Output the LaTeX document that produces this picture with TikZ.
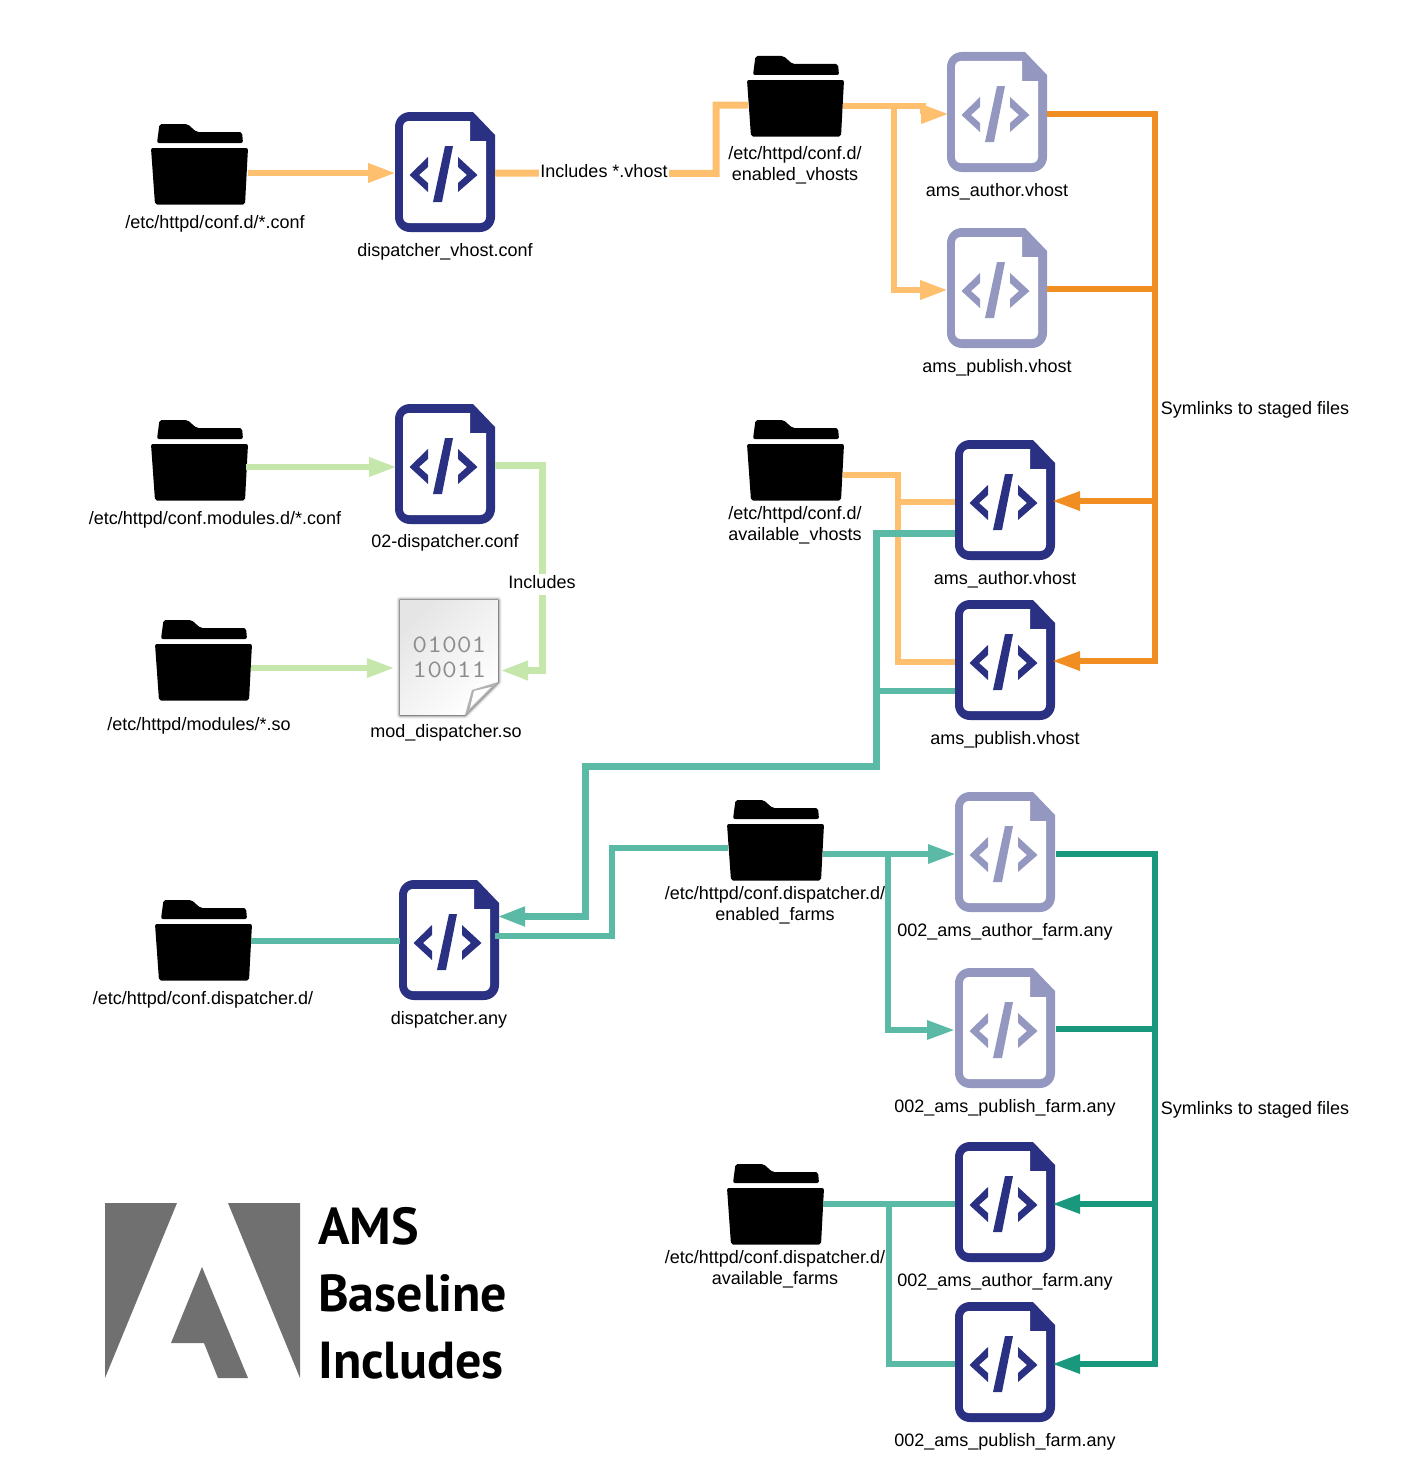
\documentclass[tikz,border=0pt]{standalone}
\usepackage{fontspec}
\setmainfont{Liberation Sans}
\newfontfamily\logofont{PT Sans}
\newfontfamily\binfont[FakeStretch=1.15]{Latin Modern Mono}
\usetikzlibrary{arrows.meta,calc}
\definecolor{navy}{HTML}{2A3182}
\definecolor{lilac}{HTML}{9498C1}
\definecolor{peach}{HTML}{FEC06E}
\definecolor{amber}{HTML}{F08E22}
\definecolor{sprout}{HTML}{C6E7AB}
\definecolor{teal2}{HTML}{5BBAA6}
\definecolor{dteal}{HTML}{1A987D}
\definecolor{logogrey}{HTML}{707070}
\tikzset{
  filebox/.style={minimum width=100pt,minimum height=120pt,inner sep=0pt,outer sep=0pt},
  folderbox/.style={minimum width=97pt,minimum height=81pt,inner sep=0pt,outer sep=0pt},
  lbl/.style={inner sep=0pt,align=center,font=\fontsize{18}{21}\selectfont},
  gap/.style={lbl,fill=white,inner xsep=1pt,inner ysep=0pt},
  conn/.style={line width=#1,line join=miter},
  conn/.default=6.5pt,
  arrowed/.style={-{Triangle[length=28pt,width=18pt]}},
  logotext/.style={inner sep=0pt,anchor=base west,font=\logofont\bfseries\fontsize{52}{52}\selectfont}
}
\newcommand{\fileicon}[4]{%
  \node[filebox] (#1) at (#2,#3) {};
  \begin{scope}[shift={(#2,#3)}]
    \fill[#4] (-35,-60) -- (28,-60) -- (50,-37) -- (50,45) .. controls (50,53.3) and (43.3,60) .. (35,60) -- (-35,60) .. controls (-43.3,60) and (-50,53.3) .. (-50,45) -- (-50,-45) .. controls (-50,-53.3) and (-43.3,-60) .. (-35,-60) -- cycle;
    \fill[white] (-36,-51) -- (25,-51) -- (25,-31) -- (41,-31) -- (41,45) .. controls (41,48.5) and (38.5,51) .. (35,51) -- (-36,51) .. controls (-39.5,51) and (-42,48.5) .. (-42,45) -- (-42,-45) .. controls (-42,-48.5) and (-39.5,-51) .. (-36,-51) -- cycle;
    \fill[#4] (-35.5,3) -- (-17,-15) -- (-17,-5) -- (-26,3) -- (-17,11) -- (-17,20) -- cycle;
    \fill[#4] (32.5,3) -- (13,-15) -- (13,-5) -- (22,3) -- (13,11) -- (13,20) -- cycle;
    \fill[#4] (0,-26) -- (8,-26) -- (-3,30) -- (-12,30) -- cycle;
  \end{scope}}
\newcommand{\foldericon}[3]{%
  \node[folderbox] (#1) at (#2,#3) {};
  \begin{scope}[shift={(#2,#3)}]
    \fill[black,rounded corners=2pt] (-42.5,-21.5) -- (-40,-40.5) -- (-12,-40.5) -- (-3,-32.5) -- (42.5,-32.5) -- (43.5,-21.5) -- cycle;
    \fill[black,rounded corners=2pt] (-48.5,-16.5) -- (48.5,-16.5) -- (45.5,40) -- (-44.5,40) -- cycle;
  \end{scope}}
\begin{document}
\begin{tikzpicture}[x=1pt,y=-1pt]
\useasboundingbox (0,0) rectangle (1405,1480);
% folders
\foldericon{fa}{199.5}{164.5}
\foldericon{fb}{795.5}{96.5}
\foldericon{fc}{199.5}{460.5}
\foldericon{fd}{203.5}{660.5}
\foldericon{fe}{795.5}{460.5}
\foldericon{ff}{775.5}{840.5}
\foldericon{fg}{203.5}{940.5}
\foldericon{fh}{775.5}{1204.5}
% files
\fileicon{dv}{445}{172}{navy}
\fileicon{dc}{445}{464}{navy}
\fileicon{la}{997}{112}{lilac}
\fileicon{lp}{997}{288}{lilac}
\fileicon{sa}{1005}{500}{navy}
\fileicon{sp}{1005}{660}{navy}
\fileicon{da}{449}{940}{navy}
\fileicon{ma}{1005}{852}{lilac}
\fileicon{mp}{1005}{1028}{lilac}
\fileicon{na}{1005}{1202}{navy}
\fileicon{np}{1005}{1362}{navy}
% binary file
\node[minimum width=100pt,minimum height=118pt,inner sep=0pt] (so) at (449,657.5) {};
\foreach \w/\o in {7/.06,5/.10,3/.16,1.5/.25}
  \draw[black,line width=\w pt,opacity=\o,line join=round] (400,600) -- (498,600) -- (498,682) -- (465,715) -- (400,715) -- cycle;
\fill[top color=black!10,bottom color=white,shading angle=45] (400,600) -- (498,600) -- (498,682) -- (465,715) -- (400,715) -- cycle;
\fill[black!30] (465,715) -- (472,690) -- (498,682) -- cycle;
\fill[white] (470,708) -- (474,691) -- (491,687) -- cycle;
\node[inner sep=0pt,font=\binfont\bfseries\fontsize{25}{25}\selectfont,text=black!45,align=center] (bin) at (449.5,657.5) {01001\\10011};
% connectors
\draw[conn,peach,arrowed] ($(fa.east)+(0,8.5)$) -- ($(dv.west)+(1,1)$);
\draw[conn=7pt,peach] ($(dv.east)+(0,1)$) -- (716,173.5) -- (716,105) -- ($(fb.west)+(1,8.5)$);
\draw[conn,peach,arrowed] ($(fb.east)+(-1,9.5)$) -- (923,106) -- (923,114) -- ($(la.west)+(2,2)$);
\draw[conn,peach,arrowed] (894,106) -- (894,290) -- ($(lp.west)+(1,2)$);
\draw[conn=6pt,amber] ($(la.east)+(0,1.5)$) -- (1155,113.5) -- (1155,289) -- ($(lp.east)+(0,1)$);
\draw[conn=6pt,amber,arrowed] (1155,113.5) -- (1155,661) -- ($(sp.east)+(-3,1)$);
\draw[conn=6pt,amber,arrowed] (1155,501) -- ($(sa.east)+(-3,1)$);
\draw[conn=6pt,peach] ($(fe.east)+(-1,14.5)$) -- (898,475) -- (898,662) -- ($(sp.west)+(0,2)$);
\draw[conn=6pt,peach] (898,502) -- ($(sa.west)+(0,2)$);
\draw[conn=7pt,teal2,arrowed] ($(sa.west)+(0,33.5)$) -- (876,533.5) -- (876,766.5) -- (585.5,766.5) -- (585.5,916.5) -- ($(da.east)+(-2,-23.5)$);
\draw[conn=6pt,teal2] (876,691) -- ($(sp.west)+(0,31)$);
\draw[conn,teal2] ($(da.east)+(-4,-4)$) -- (612,936) -- (612,848) -- ($(ff.west)+(1,7.5)$);
\draw[conn,teal2] ($(fg.east)+(-1,0.5)$) -- ($(da.west)+(1,1)$);
\draw[conn,sprout,arrowed] ($(fc.east)+(-2,6.5)$) -- ($(dc.west)+(2,3)$);
\draw[conn=7pt,sprout,arrowed] ($(dc.east)+(0,1)$) -- (542.5,465) -- (542.5,670.5) -- ($(so.east)+(1,13)$);
\draw[conn,sprout,arrowed] ($(fd.east)+(-1,7.5)$) -- ($(so.west)+(-4,10.5)$);
\draw[conn=6pt,teal2,arrowed] ($(ff.east)+(-1,13.5)$) -- ($(ma.west)+(1,2)$);
\draw[conn=6pt,teal2,arrowed] (888,854) -- (888,1030) -- ($(mp.west)+(0,2)$);
\draw[conn=6pt,dteal] ($(ma.east)+(1,2)$) -- (1155,854) -- (1155,1029) -- ($(mp.east)+(1,1)$);
\draw[conn=6pt,dteal,arrowed] (1155,1029) -- (1155,1364) -- ($(np.east)+(-3,2)$);
\draw[conn=6pt,dteal,arrowed] (1155,1204) -- ($(na.east)+(-3,2)$);
\draw[conn=6pt,teal2] ($(fh.east)+(-1,-0.5)$) -- ($(na.west)+(0,2)$);
\draw[conn=6pt,teal2] (888.5,1204) -- (888.5,1364) -- ($(np.west)+(0,2)$);
% labels
\node[gap] (l1) at (604,173.5) {\strut Includes *.vhost};
\node[gap] (l2) at (542,584.5) {\strut Includes};
\node[lbl] (t1) at (215,224.5) {\strut /etc/httpd/conf.d/*.conf};
\node[lbl] (t2) at (445,252.5) {\strut dispatcher\_vhost.conf};
\node[lbl] (t3) at (795,166) {\strut /etc/httpd/conf.d/\\\strut enabled\_vhosts};
\node[lbl] (t4) at (997,192.5) {\strut ams\_author.vhost};
\node[lbl] (t5) at (997,368.5) {\strut ams\_publish.vhost};
\node[lbl] (t6) at (1255,410.5) {\strut Symlinks to staged files};
\node[lbl] (t7) at (215,520.5) {\strut /etc/httpd/conf.modules.d/*.conf};
\node[lbl] (t8) at (445,543.5) {\strut 02-dispatcher.conf};
\node[lbl] (t9) at (199,726.5) {\strut /etc/httpd/modules/*.so};
\node[lbl] (t10) at (446,733.5) {\strut mod\_dispatcher.so};
\node[lbl] (t11) at (795,526) {\strut /etc/httpd/conf.d/\\\strut available\_vhosts};
\node[lbl] (t12) at (1005,580.5) {\strut ams\_author.vhost};
\node[lbl] (t13) at (1005,740.5) {\strut ams\_publish.vhost};
\node[lbl] (t14) at (775,906) {\strut /etc/httpd/conf.dispatcher.d/\\\strut enabled\_farms};
\node[lbl] (t15) at (203,1000.5) {\strut /etc/httpd/conf.dispatcher.d/};
\node[lbl] (t16) at (449,1020.5) {\strut dispatcher.any};
\node[lbl] (t17) at (1005,932.5) {\strut 002\_ams\_author\_farm.any};
\node[lbl] (t18) at (1005,1108.5) {\strut 002\_ams\_publish\_farm.any};
\node[lbl] (t19) at (1255,1110.5) {\strut Symlinks to staged files};
\node[lbl] (t20) at (775,1270) {\strut /etc/httpd/conf.dispatcher.d/\\\strut available\_farms};
\node[lbl] (t21) at (1005,1282.5) {\strut 002\_ams\_author\_farm.any};
\node[lbl] (t22) at (1005,1442.5) {\strut 002\_ams\_publish\_farm.any};
% logo
\fill[logogrey] (105,1203) -- (177,1203) -- (105,1378) -- cycle;
\fill[logogrey] (228,1203) -- (300,1203) -- (300,1378) -- cycle;
\fill[logogrey] (202,1267) -- (171,1343) -- (204,1343) -- (218,1378) -- (248,1378) -- cycle;
\node[logotext] (g1) at (318,1244) {AMS};
\node[logotext] (g2) at (318,1311) {Baseline};
\node[logotext] (g3) at (318,1378) {Includes};
\end{tikzpicture}
\end{document}
